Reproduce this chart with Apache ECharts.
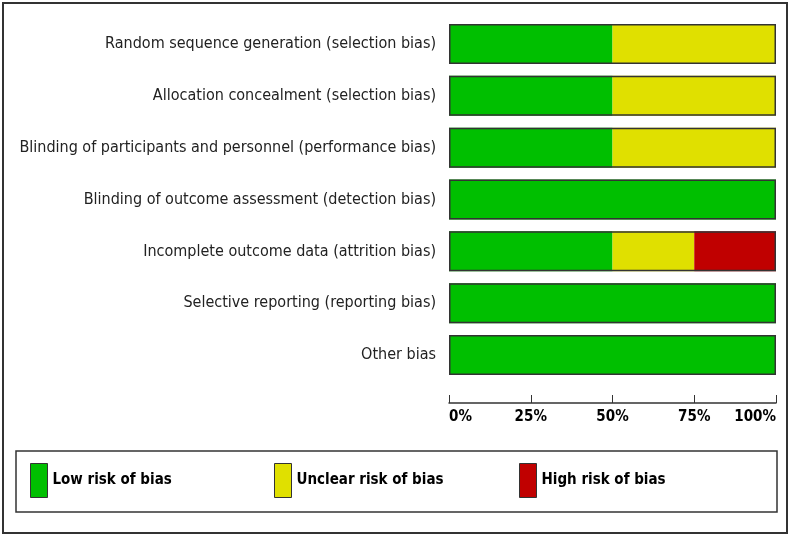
<!DOCTYPE html>
<html><head><meta charset="utf-8">
<script src="https://cdn.jsdelivr.net/npm/echarts@6/dist/echarts.min.js"></script>
<style>html,body{margin:0;padding:0;background:#fff}#c{width:792px;height:536px}</style>
</head><body><div id="c"></div>
<script>
const categories = [
  'Random sequence generation (selection bias)',
  'Allocation concealment (selection bias)',
  'Blinding of participants and personnel (performance bias)',
  'Blinding of outcome assessment (detection bias)',
  'Incomplete outcome data (attrition bias)',
  'Selective reporting (reporting bias)',
  'Other bias'
];
const lowRisk = [50, 50, 50, 100, 50, 100, 100];
const unclearRisk = [50, 50, 50, 0, 25, 0, 0];
const highRisk = [0, 0, 0, 0, 25, 0, 0];
const frameTotal = [100, 100, 100, 100, 100, 100, 100];
const tickValues = [0, 25, 50, 75, 100];
const seriesNames = ['Low risk of bias', 'Unclear risk of bias', 'High risk of bias'];
const colors = ['#00bf00', '#e0e000', '#c00000'];

const chart = echarts.init(document.getElementById('c'), null, {renderer: 'canvas'});
const font = '"DejaVu Sans Condensed", "DejaVu Sans", sans-serif';
const legendBase = (i, left) => ({
  data: [seriesNames[i]], left: left, top: 463, orient: 'horizontal',
  itemWidth: 17, itemHeight: 34, itemGap: 0, padding: 0, selectedMode: false,
  icon: 'rect',
  itemStyle: {borderColor: '#333', borderWidth: 1},
  textStyle: {fontFamily: font, fontWeight: 'bold', fontSize: 15, color: '#000', padding: [0,0,0,0]}
});
chart.setOption({
  animation: false,
  grid: {left: 449, right: 16, top: 18, bottom: 155, containLabel: false, outerBoundsMode: 'none'},
  xAxis: {
    type: 'value', min: 0, max: 100, interval: 25, position: 'bottom', offset: 22,
    axisLine: {show: true, lineStyle: {color: '#333', width: 1.5}},
    axisTick: {show: true, inside: true, length: 8, lineStyle: {color: '#333', width: 1}},
    splitLine: {show: false},
    axisLabel: {
      formatter: v => tickValues.includes(v) ? v + '%' : '',
      fontFamily: font, fontWeight: 'bold', fontSize: 15, color: '#000', margin: 7,
      alignMinLabel: 'left', alignMaxLabel: 'right'
    }
  },
  yAxis: {
    type: 'category', data: categories, inverse: true,
    axisLine: {show: false}, axisTick: {show: false},
    axisLabel: {fontFamily: font, fontSize: 16, color: '#222', margin: 13, padding: [5, 0, 0, 0]}
  },
  legend: [legendBase(0, 30), legendBase(1, 274), legendBase(2, 519)],
  graphic: [
    {type: 'rect', shape: {x: 3, y: 3, width: 784, height: 530}, style: {fill: 'none', stroke: '#333', lineWidth: 2}, silent: true},
    {type: 'rect', shape: {x: 16, y: 451, width: 761, height: 61}, style: {fill: 'none', stroke: '#333', lineWidth: 1.5}, silent: true}
  ],
  series: [
    {name: seriesNames[0], type: 'bar', stack: 'r', data: lowRisk, barWidth: 40, itemStyle: {color: colors[0]}},
    {name: seriesNames[1], type: 'bar', stack: 'r', data: unclearRisk, barWidth: 40, itemStyle: {color: colors[1]}},
    {name: seriesNames[2], type: 'bar', stack: 'r', data: highRisk, barWidth: 40, itemStyle: {color: colors[2]}},
    {name: 'frame', type: 'bar', data: frameTotal, barWidth: 40, barGap: '-100%', z: 5, silent: true,
     itemStyle: {color: 'rgba(0,0,0,0)', borderColor: '#333', borderWidth: 1.5}}
  ]
});
</script></body></html>
